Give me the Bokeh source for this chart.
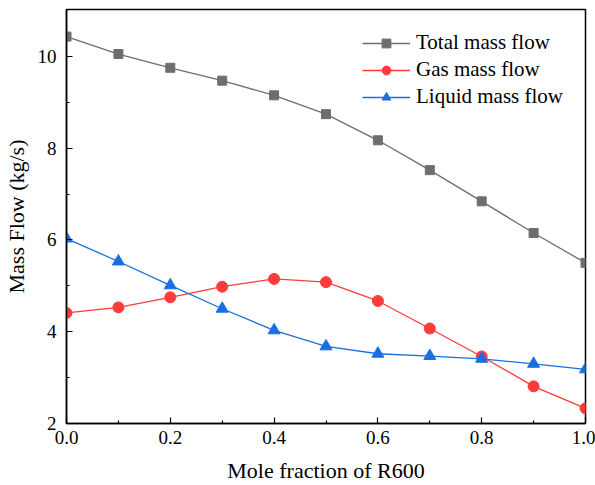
from bokeh.plotting import figure
from bokeh.models import Range1d, FixedTicker, Legend, LegendItem
from bokeh.embed import file_html
from bokeh.resources import INLINE

x_frac = [0.0, 0.1, 0.2, 0.3, 0.4, 0.5, 0.6, 0.7, 0.8, 0.9, 1.0]
total_flow = [10.43, 10.05, 9.75, 9.47, 9.15, 8.74, 8.17, 7.52, 6.84, 6.15, 5.50]
gas_flow = [4.41, 4.53, 4.75, 4.98, 5.15, 5.08, 4.67, 4.07, 3.46, 2.81, 2.33]
liquid_flow = [6.03, 5.53, 5.01, 4.50, 4.03, 3.68, 3.52, 3.47, 3.41, 3.30, 3.18]
x_ticks = [0.0, 0.2, 0.4, 0.6, 0.8, 1.0]
y_ticks = [2, 4, 6, 8, 10]

FONT = "'Liberation Serif', 'Times New Roman', serif"

p = figure(width=595, height=485, output_backend="svg", toolbar_location=None,
           x_range=Range1d(0, 1), y_range=Range1d(2, 11.02),
           min_border_left=66, min_border_right=10, min_border_top=9, min_border_bottom=59)
p.xgrid.visible = False
p.ygrid.visible = False
p.outline_line_color = "black"
p.outline_line_width = 1.5
p.background_fill_color = "white"
p.border_fill_color = "white"

for ax in (p.xaxis[0], p.yaxis[0]):
    ax.major_tick_in = 6
    ax.major_tick_out = 0
    ax.minor_tick_in = 3
    ax.minor_tick_out = 0
    ax.axis_line_width = 1.5
    ax.major_tick_line_width = 1.2
    ax.minor_tick_line_width = 1.2
    ax.major_label_text_font = FONT
    ax.major_label_text_font_size = "19px"
    ax.major_label_text_color = "black"
    ax.axis_label_text_font = FONT
    ax.axis_label_text_font_size = "22px"
    ax.axis_label_text_font_style = "normal"
    ax.axis_label_text_color = "black"

p.xaxis.ticker = FixedTicker(ticks=x_ticks, minor_ticks=[0.1, 0.3, 0.5, 0.7, 0.9])
p.yaxis.ticker = FixedTicker(ticks=y_ticks, minor_ticks=[3, 5, 7, 9])
p.xaxis.major_label_overrides = {0.0: "0.0", 0.2: "0.2", 0.4: "0.4", 0.6: "0.6", 0.8: "0.8", 1.0: "1.0"}
p.xaxis.axis_label = "Mole fraction of R600"
p.yaxis.axis_label = "Mass Flow (kg/s)"
p.xaxis.major_label_standoff = 7
p.yaxis.major_label_standoff = 10
p.xaxis.axis_label_standoff = 11
p.yaxis.axis_label_standoff = 6

c_total = "#6e6e6e"
c_gas = "#ff3b3b"
c_liq = "#1a6fe0"

l1 = p.line(x_frac, total_flow, line_color=c_total, line_width=1.3)
m1 = p.scatter(x_frac, total_flow, marker="square", size=9, fill_color=c_total, line_color=c_total)
l2 = p.line(x_frac, gas_flow, line_color=c_gas, line_width=1.3)
m2 = p.scatter(x_frac, gas_flow, marker="circle", size=11, fill_color=c_gas, line_color=c_gas)
l3 = p.line(x_frac, liquid_flow, line_color=c_liq, line_width=1.3)
m3 = p.scatter(x_frac, liquid_flow, marker="triangle", size=12, fill_color=c_liq, line_color=c_liq)

legend = Legend(items=[
    LegendItem(label="Total mass flow", renderers=[l1, m1]),
    LegendItem(label="Gas mass flow", renderers=[l2, m2]),
    LegendItem(label="Liquid mass flow", renderers=[l3, m3]),
], location=(296, 314))
legend.border_line_color = None
legend.background_fill_alpha = 0
legend.padding = 0
legend.spacing = 2
legend.glyph_width = 48
legend.glyph_height = 22
legend.label_height = 22
legend.label_standoff = 6
legend.label_text_font = FONT
legend.label_text_font_size = "21px"
legend.label_text_color = "black"
legend.margin = 0
p.add_layout(legend)

open("out.html", "w").write(file_html(p, INLINE))
